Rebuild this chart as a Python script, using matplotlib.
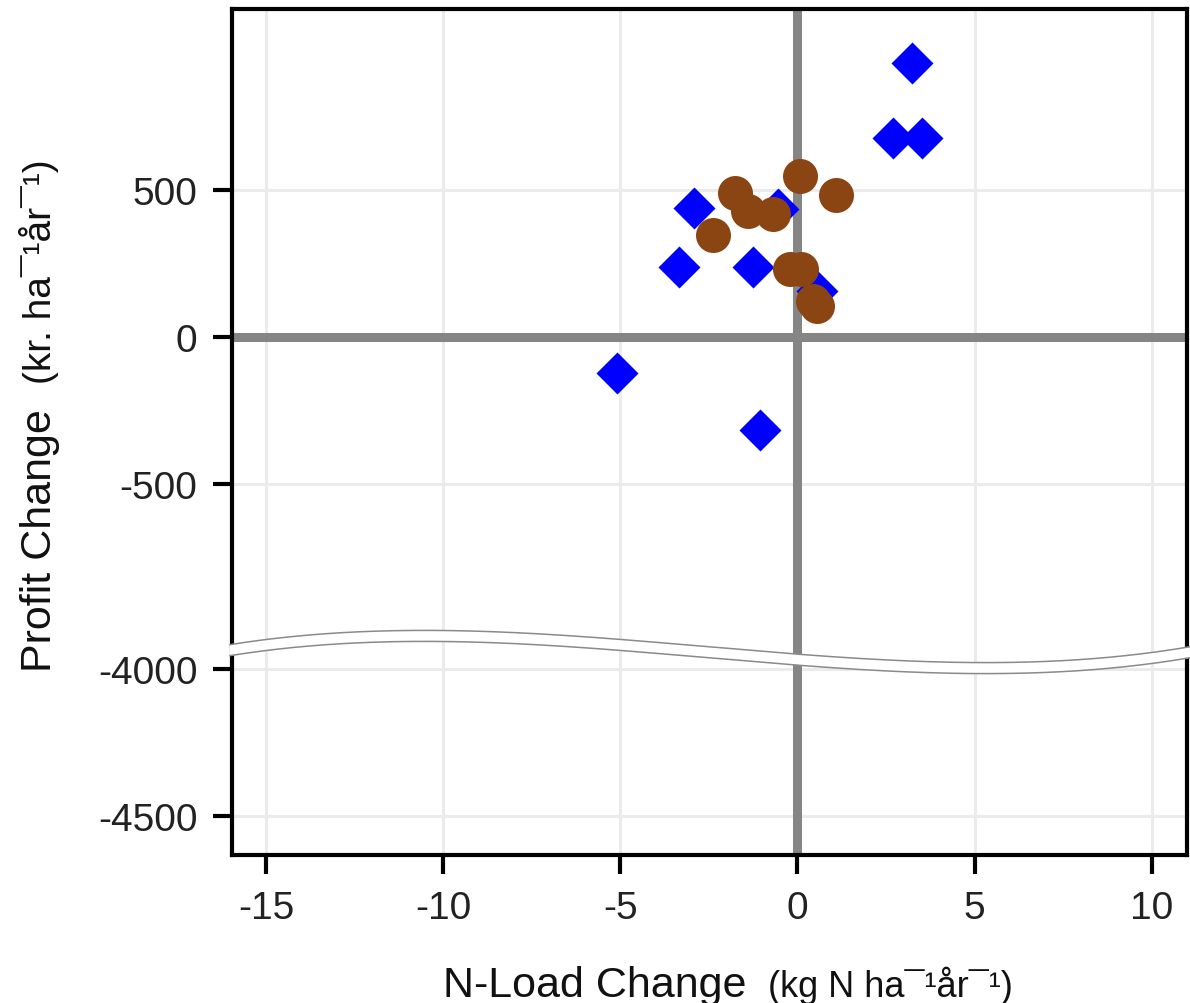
import numpy as np
import matplotlib
matplotlib.use('Agg')
import matplotlib.pyplot as plt
from matplotlib.patches import Polygon
from matplotlib.lines import Line2D

plt.rcParams['font.family'] = ['Liberation Sans', 'DejaVu Sans']
plt.rcParams['axes.unicode_minus'] = False

# blue diamonds
blue_x = [3.23, 2.70, 3.52, -2.92, -3.35, -1.26, -0.55, 0.55, -5.10, -1.06]
blue_y = [932, 677, 677, 439, 238, 238, 435, 156, -122, -316]
# brown circles
brown_x = [-1.77, -1.40, -0.69, -2.39, 0.07, 1.09, -0.21, 0.10, 0.44, 0.55]
brown_y = [490, 429, 418, 347, 548, 483, 231, 231, 122, 105]

x_ticks = [-15, -10, -5, 0, 5, 10]
x_ticklabels = ['-15', '-10', '-5', '0', '5', '10']
y_ticks = [500, 0, -500, -4000, -4500]
y_ticklabels = ['500', '0', '-500', '-4000', '-4500']

W, H = 1190, 1004
fig = plt.figure(figsize=(W / 100, H / 100), dpi=100)
ax = fig.add_axes([232 / W, 1 - 856 / H, (1187 - 232) / W, (856 - 10) / H])

# broken y axis: squeeze -3940..-1000 into a thin strip
brk_data = [-20000, -3940, -1000, 20000]
brk_virt = [-20000 + 2870, -1070, -1000, 20000]


def fwd(y):
    return np.interp(y, brk_data, brk_virt)


def inv(v):
    return np.interp(v, brk_virt, brk_data)


ax.set_yscale('function', functions=(fwd, inv))

ax.grid(True, color='#ebebeb', lw=2.2)
ax.set_axisbelow(True)
ax.axhline(0, color='#858585', lw=6.5, zorder=1.5)
ax.axvline(0, color='#858585', lw=6.5, zorder=1.5)

ax.scatter(blue_x, blue_y, marker='D', s=21.4 ** 2, color='#0000ff', linewidths=0, zorder=3)
ax.scatter(brown_x, brown_y, marker='o', s=25.2 ** 2, color='#8b4513', linewidths=0, zorder=4)

ax.set_xlim(-15.97, 11.0)
ax.set_ylim(-4632, 1116)
ax.set_xticks(x_ticks, x_ticklabels)
ax.set_yticks(y_ticks, y_ticklabels)
ax.minorticks_off()
ax.tick_params(direction='out', length=14, width=3, color='black', pad=11,
               labelsize=28, labelcolor='#222222')
for s in ax.spines.values():
    s.set_linewidth(3)
    s.set_color('black')

# wavy break band (pixel coords)
bx = np.array([229, 400, 440, 800, 977, 1190])
by = np.array([651.5, 637, 636.5, 662, 668, 653.5])
coef = np.polyfit(bx, by, 3)
xs = np.linspace(230, W, 300)
cs = np.polyval(coef, xs)
up = cs - 5.5
lo = cs + 5.5
fx = xs / W
band = np.concatenate([np.column_stack([fx, 1 - up / H]),
                       np.column_stack([fx[::-1], 1 - lo[::-1] / H])])
fig.add_artist(Polygon(band, closed=True, facecolor='white', edgecolor='none',
                       transform=fig.transFigure, zorder=5))
fig.add_artist(Line2D(fx, 1 - up / H, color='#8a8a8a', lw=1.1, transform=fig.transFigure, zorder=6))
fig.add_artist(Line2D(fx, 1 - lo / H, color='#8a8a8a', lw=1.1, transform=fig.transFigure, zorder=6))

# axis labels
fig.text(443 / W, 1 - 997 / H, 'N-Load Change', fontsize=31, ha='left', va='baseline', color='#111111')
fig.text(768 / W, 1 - 997 / H, '(kg N ha¯¹år¯¹)', fontsize=26, ha='left', va='baseline', color='#111111')
fig.text(51 / W, 1 - 672 / H, 'Profit Change', fontsize=31, rotation=90, rotation_mode='anchor',
         ha='left', va='baseline', color='#111111')
fig.text(51 / W, 1 - 384 / H, '(kr. ha¯¹år¯¹)', fontsize=28, rotation=90, rotation_mode='anchor',
         ha='left', va='baseline', color='#111111')

fig.savefig('out.png', dpi=100, facecolor='white')
